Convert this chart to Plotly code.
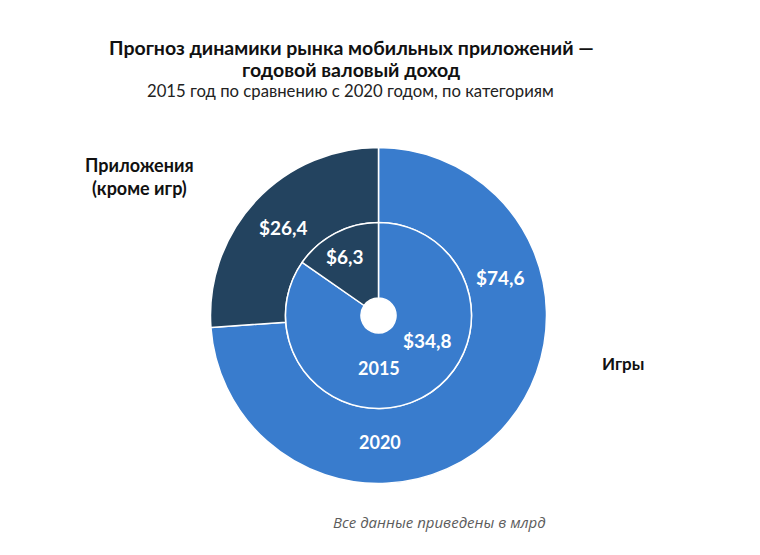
import plotly.graph_objects as go

categories = ["Игры", "Приложения (кроме игр)"]
values_2020 = [74.6, 26.4]
values_2015 = [34.8, 6.3]
years = ["2020", "2015"]

BLUE = "#397CCD"
DARK = "#23435F"
colors = [BLUE, DARK]

W, H = 760, 555
cx, cy = 378.5, 315.5  # pixel center (from top)
R_OUT, R_IN = 168, 93


def dom(r):
    yb = H - cy
    return dict(x=[(cx - r) / W, (cx + r) / W], y=[(yb - r) / H, (yb + r) / H])


def fmt(v):
    return "$" + f"{v:.1f}".replace(".", ",")


fig = go.Figure()
fig.add_trace(go.Pie(
    labels=categories, values=values_2020, sort=False, direction="clockwise",
    rotation=0, hole=R_IN / R_OUT, domain=dom(R_OUT), textinfo="none",
    marker=dict(colors=colors, line=dict(color="white", width=1.5)),
    showlegend=False, hoverinfo="label+value",
))
fig.add_trace(go.Pie(
    labels=categories, values=values_2015, sort=False, direction="clockwise",
    rotation=0, hole=17.5 / R_IN, domain=dom(R_IN), textinfo="none",
    marker=dict(colors=colors, line=dict(color="white", width=1.5)),
    showlegend=False, hoverinfo="label+value",
))


def px(x, y, text, size, color="white", bold=True, italic=False, family="Lato"):
    t = f"<b>{text}</b>" if bold else text
    if italic:
        t = f"<i>{t}</i>"
    fig.add_annotation(x=x / W, y=1 - y / H, xref="paper", yref="paper",
                       text=t, showarrow=False, xanchor="center", yanchor="middle",
                       font=dict(size=size, color=color, family=family))


# value labels
px(500, 277, fmt(values_2020[0]), 19)
px(283, 227, fmt(values_2020[1]), 19)
px(427, 340, fmt(values_2015[0]), 19)
px(345, 257, fmt(values_2015[1]), 19)
px(379, 368, years[1], 18)
px(380, 442, years[0], 18)

# category labels
px(139, 165, "Приложения", 18, color="#111111")
px(139, 188, "(кроме игр)", 18, color="#111111")
px(623, 363, categories[0], 17, color="#111111")

# titles
px(351, 47, "Прогноз динамики рынка мобильных приложений —", 19.5, color="#111111")
px(351, 69, "годовой валовый доход", 19.5, color="#111111")
px(350, 91, "2015 год по сравнению с 2020 годом, по категориям", 16.7, color="#222222", bold=False)
px(439, 522, "Все данные приведены в млрд", 15, color="#5c5c5c", bold=False, italic=True,
   family="Open Sans")

fig.update_layout(width=W, height=H, margin=dict(l=0, r=0, t=0, b=0),
                  paper_bgcolor="white", plot_bgcolor="white")
fig.write_html("out.html")
